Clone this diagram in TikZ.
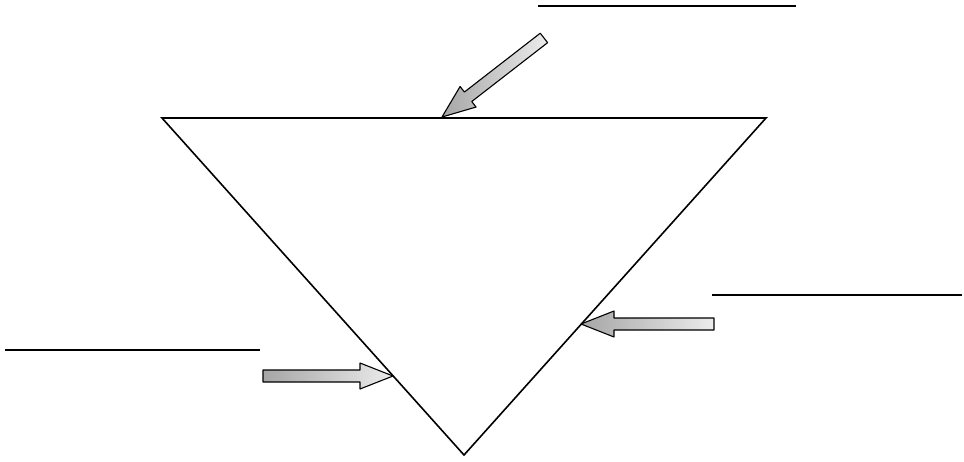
\documentclass[tikz,border=0pt]{standalone}
\tikzset{
  tri/.style={draw=black, line width=1.6pt, line join=miter},
  blank/.style={draw=black, line width=1.3pt},
  arrowbody/.style={draw=black, line width=1.1pt, line join=round, left color=gray!70, right color=gray!15},
  pics/fatarrow/.style={code={
    \path[arrowbody] (-#1,-6) -- (-33,-6) -- (-33,-13) -- (0,0) -- (-33,13) -- (-33,6) -- (-#1,6) -- cycle;}}
}
\begin{document}
\begin{tikzpicture}[x=1pt,y=-1pt]
\useasboundingbox (0,0) rectangle (964,461);
% triangle
\coordinate (tl) at (162,118);
\coordinate (tr) at (766,118);
\coordinate (bt) at (464,455);
\draw[tri] (tl) -- (tr) -- (bt) -- cycle;
% blank lines
\coordinate (l1a) at (538,6);   \coordinate (l1b) at (796,6);
\coordinate (l2a) at (712,295); \coordinate (l2b) at (962,295);
\coordinate (l3a) at (5,350);   \coordinate (l3b) at (260,350);
\draw[blank] (l1a) -- (l1b);
\draw[blank] (l2a) -- (l2b);
\draw[blank] (l3a) -- (l3b);
% arrows
\pic[rotate=217.8] at (442,117) {fatarrow=129};
\pic at (393,376) {fatarrow=130};
\pic[rotate=180] at (581,324) {fatarrow=133};
\end{tikzpicture}
\end{document}
